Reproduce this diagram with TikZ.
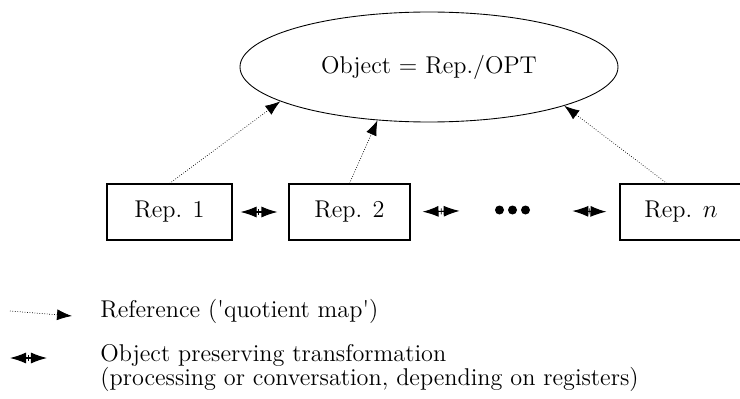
\documentclass[tikz,border=0pt]{standalone}
\usetikzlibrary{arrows.meta, shapes.geometric, decorations.markings}

\begin{document}
\begin{tikzpicture}[
	font=\fontsize{13.8}{13.6}\selectfont,
	repbox/.style={rectangle, draw, line width=0.6pt, minimum height=1.12cm, inner sep=0pt},
	refer/.style={densely dotted, line width=0.4pt, -{Latex[length=0.3cm, width=0.22cm]}},
	opt/.style={line width=0.6pt, {Latex[length=0.32cm, width=0.22cm]}-{Latex[length=0.32cm, width=0.22cm]},
		postaction={decorate}, decoration={markings, mark=at position #1 with {\draw[-, shorten <=0pt, shorten >=0pt, line width=0.4pt] (0,-0.06) -- (0,0.06);}}},
	opt/.default=0.5,
	bigdot/.style={circle, fill, inner sep=0pt, minimum size=0.18cm}
	]
	\useasboundingbox (0,0) rectangle (14.8,7.96);
	\node[ellipse, draw, line width=0.5pt, minimum width=7.56cm, minimum height=2.2cm, inner sep=0pt] (obj) at (8.58,6.62) {Object = Rep./OPT};
	\node[repbox, minimum width=2.5cm] (rep1) at (3.39,3.72) {Rep. 1};
	\node[repbox, minimum width=2.42cm] (rep2) at (6.99,3.72) {Rep. 2};
	\node[repbox, minimum width=2.44cm] (repn) at (13.62,3.72) {Rep. $n$};
	\node[bigdot] (d1) at (9.99,3.76) {};
	\node[bigdot] (d2) at (10.25,3.76) {};
	\node[bigdot] (d3) at (10.51,3.76) {};
	\draw[refer] (rep1.north) -- (obj.193);
	\draw[refer] (rep2.north) -- (obj.226);
	\draw[refer] ([xshift=-0.28cm]repn.north) -- (obj.344);
	\draw[opt=0.47, shorten <=0.16cm, shorten >=0.22cm] (rep1.east) -- (rep2.west);
	\draw[opt=0.365, shorten <=0.24cm, shorten >=0.7cm] (rep2.east) -- (d1);
	\draw[opt=0.66, shorten <=0.84cm, shorten >=0.26cm] (d3) -- (repn.west);
	\coordinate (refa) at (0.2,1.74);
	\coordinate (refb) at (1.44,1.64);
	\draw[refer] (refa) -- (refb);
	\node[anchor=base west, inner sep=0pt] (refkey) at (2.0,1.62) {Reference (\textquotesingle quotient map\textquotesingle)};
	\coordinate (opta) at (0.2,0.8);
	\coordinate (optb) at (0.94,0.8);
	\draw[opt] (opta) -- (optb);
	\node[anchor=north west, inner sep=0pt, align=left] (optkey) at (2.0,1.08) {Object preserving transformation\\(processing or conversation, depending on registers)};
\end{tikzpicture}
\end{document}
